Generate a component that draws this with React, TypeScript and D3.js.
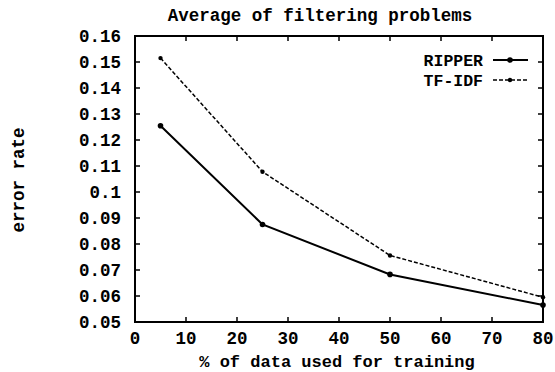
import * as d3 from "d3";

const width = 555;
const height = 372;
const margin = { left: 135, right: 12, top: 36, bottom: 50 };

const trainPct = [5, 25, 50, 80];
const ripper = [0.1255, 0.0875, 0.0683, 0.0565];
const tfidf = [0.1515, 0.1078, 0.0756, 0.0595];
const xTicks = [0, 10, 20, 30, 40, 50, 60, 70, 80];
const yTicks = [0.05, 0.06, 0.07, 0.08, 0.09, 0.1, 0.11, 0.12, 0.13, 0.14, 0.15, 0.16];

const font = "'Liberation Mono', 'DejaVu Sans Mono', monospace";

export default function App() {
  const x = d3.scaleLinear().domain([0, 80]).range([margin.left, width - margin.right]);
  const y = d3.scaleLinear().domain([0.05, 0.16]).range([height - margin.bottom, margin.top]);

  const line = d3
    .line<number>()
    .x((_, i) => x(trainPct[i]))
    .y((d) => y(d));

  const [x0, x1] = x.range();
  const [y0, y1] = y.range();
  const tick = 5;

  return (
    <svg
      width={width}
      height={height}
      style={{ position: "absolute", left: 0, top: 0, background: "white" }}
      fontFamily={font}
      fontWeight="bold"
    >
      {/* frame */}
      <rect x={x0} y={y1} width={x1 - x0} height={y0 - y1} fill="none" stroke="black" strokeWidth={2} />

      {/* x ticks */}
      {xTicks.map((t) => (
        <g key={"x" + t}>
          {t > 0 && t < 80 && (
            <>
              <line x1={x(t)} x2={x(t)} y1={y0} y2={y0 - tick} stroke="black" strokeWidth={1.5} />
              <line x1={x(t)} x2={x(t)} y1={y1} y2={y1 + tick} stroke="black" strokeWidth={1.5} />
            </>
          )}
          <text x={x(t)} y={344} textAnchor="middle" fontSize={17.5}>
            {t}
          </text>
        </g>
      ))}

      {/* y ticks */}
      {yTicks.map((t) => (
        <g key={"y" + t}>
          {t > 0.05 && t < 0.16 && (
            <>
              <line x1={x0} x2={x0 + tick} y1={y(t)} y2={y(t)} stroke="black" strokeWidth={1.5} />
              <line x1={x1} x2={x1 - tick} y1={y(t)} y2={y(t)} stroke="black" strokeWidth={1.5} />
            </>
          )}
          <text x={121} y={y(t)} dy="0.35em" textAnchor="end" fontSize={17.5}>
            {d3.format("")(+t.toFixed(2))}
          </text>
        </g>
      ))}

      {/* series */}
      <path d={line(tfidf) ?? ""} fill="none" stroke="black" strokeWidth={1.5} strokeDasharray="4,2" />
      <path d={line(ripper) ?? ""} fill="none" stroke="black" strokeWidth={2} />
      {tfidf.map((v, i) => (
        <circle key={"t" + i} cx={x(trainPct[i])} cy={y(v)} r={2.2} fill="black" />
      ))}
      {ripper.map((v, i) => (
        <circle key={"r" + i} cx={x(trainPct[i])} cy={y(v)} r={2.8} fill="black" />
      ))}

      {/* legend */}
      <text x={483} y={60} dy="0.35em" textAnchor="end" fontSize={16.5}>RIPPER</text>
      <line x1={493} x2={528} y1={60} y2={60} stroke="black" strokeWidth={2} />
      <circle cx={510} cy={60} r={2.8} fill="black" />
      <text x={483} y={80} dy="0.35em" textAnchor="end" fontSize={16.5}>TF-IDF</text>
      <line x1={493} x2={528} y1={80} y2={80} stroke="black" strokeWidth={1.5} strokeDasharray="4,2" />
      <circle cx={510} cy={80} r={2.2} fill="black" />

      {/* titles */}
      <text x={320} y={21} textAnchor="middle" fontSize={17.5}>
        Average of filtering problems
      </text>
      <text x={337} y={367} textAnchor="middle" fontSize={17}>
        % of data used for training
      </text>
      <text transform="translate(18,180) rotate(-90)" dy="0.35em" textAnchor="middle" fontSize={17.5}>
        error rate
      </text>
    </svg>
  );
}
